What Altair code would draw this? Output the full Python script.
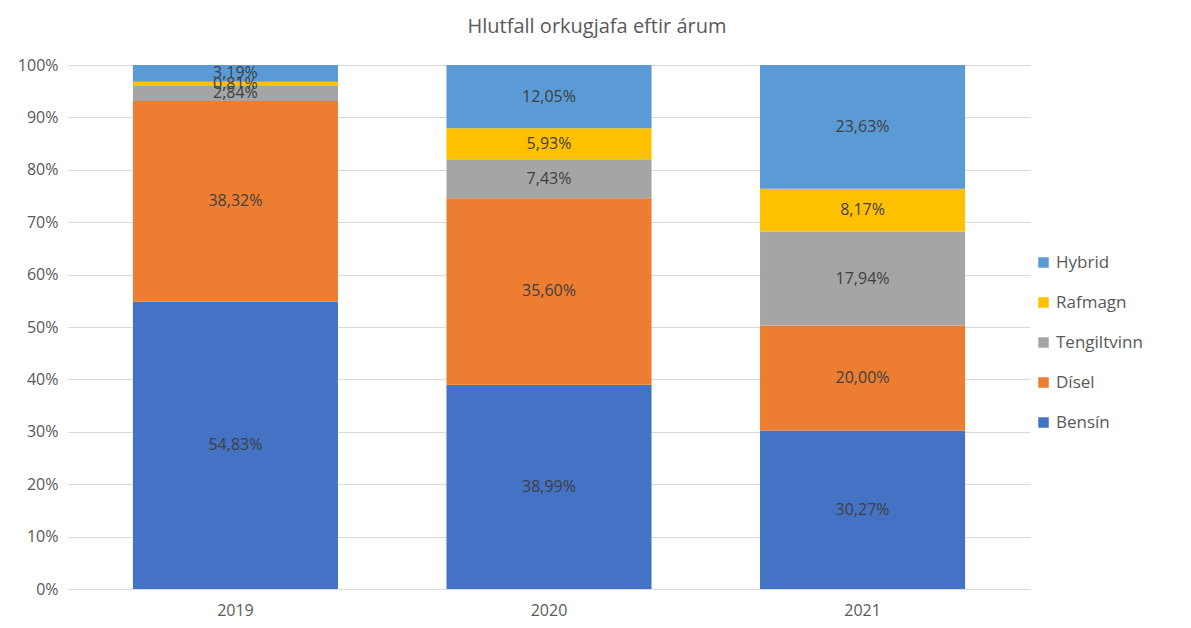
import altair as alt
import pandas as pd

years = ["2019", "2020", "2021"]
fuels = ["Bensín", "Dísel", "Tengiltvinn", "Rafmagn", "Hybrid"]
bensin = [54.83, 38.99, 30.27]
disel = [38.32, 35.60, 20.00]
tengiltvinn = [2.84, 7.43, 17.94]
rafmagn = [0.81, 5.93, 8.17]
hybrid = [3.19, 12.05, 23.63]
colors = ["#4472C4", "#ED7D31", "#A5A5A5", "#FFC000", "#5B9BD5"]

series = [bensin, disel, tengiltvinn, rafmagn, hybrid]
rows = []
for fi, (f, vals) in enumerate(zip(fuels, series)):
    for y, v in zip(years, vals):
        rows.append({"year": y, "fuel": f, "value": v, "ord": fi,
                     "label": f"{v:.2f}".replace(".", ",") + "%"})
df = pd.DataFrame(rows)

base = alt.Chart(df).transform_stack(
    stack="value", groupby=["year"], as_=["y0", "y1"], sort=[{"field": "ord", "order": "ascending"}]
).transform_calculate(mid="(datum.y0 + datum.y1) / 2")

x = alt.X("year:N", title=None, scale=alt.Scale(paddingInner=0.346, paddingOuter=0.207),
          axis=alt.Axis(labelAngle=0, labelFontSize=16, labelColor="#595959", labelFont="Open Sans",
                        ticks=False, domainColor="#D9D9D9", labelPadding=13))

bars = base.mark_bar().encode(
    x=x,
    y=alt.Y("y0:Q", title=None, scale=alt.Scale(domain=[0, 100]),
            axis=alt.Axis(values=list(range(0, 101, 10)), labelExpr="datum.value + '%'",
                          labelFontSize=16, labelColor="#595959", labelFont="Open Sans",
                          ticks=False, domain=False, gridColor="#D9D9D9", labelPadding=10)),
    y2="y1:Q",
    color=alt.Color("fuel:N", scale=alt.Scale(domain=fuels[::-1], range=colors[::-1]),
                    legend=alt.Legend(title=None, orient="none", legendX=967, legendY=189,
                                      symbolType="square", symbolSize=110, rowPadding=22,
                                      labelFontSize=17, labelColor="#595959", labelFont="Open Sans",
                                      symbolStrokeWidth=0)),
)

text = base.mark_text(fontSize=16, color="#404040", font="Open Sans").encode(
    x=alt.X("year:N"),
    y=alt.Y("mid:Q"),
    text="label:N",
)

chart = (bars + text).properties(
    width=962, height=524,
    title=alt.TitleParams("Hlutfall orkugjafa eftir árum", fontSize=20, font="Open Sans",
                          color="#595959", fontWeight="normal", anchor="middle", offset=20, dx=48),
    padding={"left": 9, "top": 9, "right": 5, "bottom": 4},
).configure_view(stroke=None)

chart.save("out.html", embed_options={"renderer": "svg", "actions": False})
